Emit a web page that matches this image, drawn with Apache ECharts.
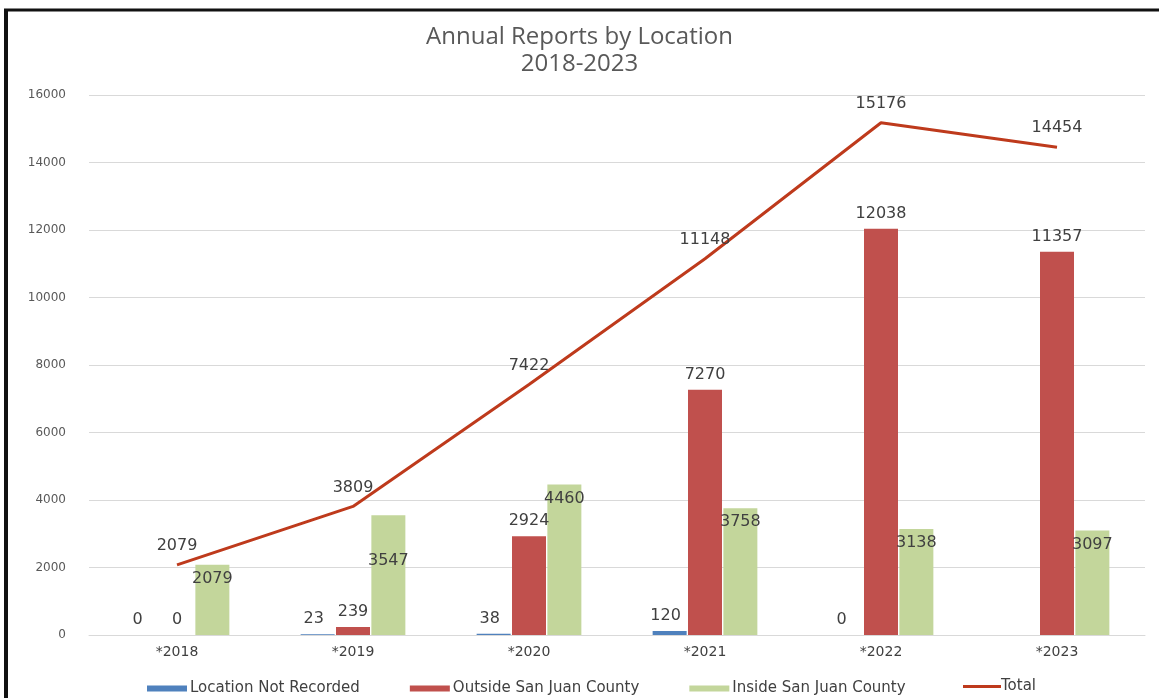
<!DOCTYPE html>
<html><head><meta charset="utf-8">
<script src="https://cdn.jsdelivr.net/npm/echarts@6/dist/echarts.min.js"></script>
<style>html,body{margin:0;padding:0;background:#fff}#c{width:1159px;height:698px}</style>
</head><body><div id="c"></div>
<script>
const categories = ['*2018','*2019','*2020','*2021','*2022','*2023'];
const notRecorded = [0, 23, 38, 120, 0, null];
const outside = [0, 239, 2924, 7270, 12038, 11357];
const inside = [2079, 3547, 4460, 3758, 3138, 3097];
const total = [2079, 3809, 7422, 11148, 15176, 14454];
const yTicks = {min: 0, max: 16000, interval: 2000};

const labelColor = '#404040';
const lblFont = 'DejaVu Sans';
const chart = echarts.init(document.getElementById('c'));
const insideData = inside.map((v, i) => i === 1 ? {value: v, label: {offset: [0, 32]}} : v);
const dataLabel = {show: true, fontFamily: lblFont, fontSize: 16, color: labelColor};
chart.setOption({
  animation: false,
  title: {
    text: 'Annual Reports by Location\n2018-2023',
    left: 'center', top: 19,
    textStyle: {fontFamily: 'Open Sans', fontSize: 24, fontWeight: 'normal', color: '#595959', lineHeight: 27}
  },
  graphic: [
    {type: 'line', shape: {x1: 6, y1: 10, x2: 6, y2: 698}, style: {stroke: '#111', lineWidth: 4}},
    {type: 'line', shape: {x1: 4, y1: 10, x2: 1159, y2: 10}, style: {stroke: '#111', lineWidth: 3}}
  ],
  legend: [{
    bottom: 2, left: 147, padding: 0, itemWidth: 40, itemHeight: 6, itemGap: 50,
    textStyle: {fontFamily: lblFont, fontSize: 15, color: labelColor, padding: [0, 0, 0, -2]},
    data: [
      {name: 'Location Not Recorded', icon: 'rect'},
      {name: 'Outside San Juan County', icon: 'rect'},
      {name: 'Inside San Juan County', icon: 'rect'}
    ]
  }, {
    bottom: 4, left: 963, padding: 0, itemWidth: 38, itemHeight: 3,
    textStyle: {fontFamily: lblFont, fontSize: 15, color: labelColor, padding: [0, 0, 0, -5]},
    data: [{name: 'Total', icon: 'rect'}]
  }],
  grid: {left: 89, right: 14, top: 95, bottom: 63},
  xAxis: {
    type: 'category', data: categories,
    axisLine: {lineStyle: {color: '#d9d9d9'}}, axisTick: {show: false},
    axisLabel: {fontFamily: lblFont, fontSize: 14, color: labelColor, margin: 10}
  },
  yAxis: {
    type: 'value', min: yTicks.min, max: yTicks.max, interval: yTicks.interval,
    axisLine: {show: false}, axisTick: {show: false},
    splitLine: {lineStyle: {color: '#d9d9d9'}},
    axisLabel: {fontFamily: lblFont, fontSize: 12, color: '#595959', margin: 23, formatter: v => String(v)}
  },
  series: [
    {name: 'Location Not Recorded', type: 'bar', data: notRecorded, barWidth: 34, barGap: '4%',
     itemStyle: {color: '#4F81BD'},
     label: Object.assign({position: 'top', offset: [-4, -2]}, dataLabel)},
    {name: 'Outside San Juan County', type: 'bar', data: outside, barWidth: 34, barGap: '4%',
     itemStyle: {color: '#C0504D'},
     label: Object.assign({position: 'top', offset: [0, -2]}, dataLabel)},
    {name: 'Inside San Juan County', type: 'bar', data: insideData, barWidth: 34, barGap: '4%',
     itemStyle: {color: '#C3D69B'},
     label: Object.assign({position: 'insideTop', distance: 6}, dataLabel)},
    {name: 'Total', type: 'line', data: total, symbol: 'circle', symbolSize: 0, showSymbol: true,
     lineStyle: {color: '#BE3A1C', width: 3}, itemStyle: {color: '#BE3A1C'},
     label: Object.assign({position: 'top', distance: 11}, dataLabel)}
  ]
});
</script></body></html>
